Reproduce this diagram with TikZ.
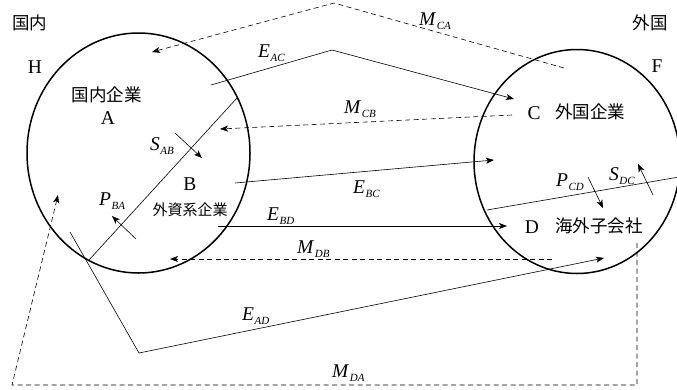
\documentclass[tikz,border=0pt]{standalone}
\usepackage{fontspec}
\setmainfont{Liberation Serif}
\newfontfamily\jp{Noto Sans CJK JP}
\usetikzlibrary{arrows.meta}
\newcommand{\sublab}[2]{\textit{#1}\kern0.5pt\raisebox{-4pt}{\fontsize{11}{11}\selectfont\textit{#2}}}
\begin{document}
\begin{tikzpicture}[x=1pt,y=-1pt,
  circ/.style={line width=1.5pt},
  flow/.style={line width=0.6pt},
  mflow/.style={line width=0.6pt, dash pattern=on 5pt off 3.5pt},
  tip/.style={-{Stealth[length=8pt,width=6pt,inset=2pt]}},
  jtxt/.style={font=\jp\fontsize{17.5}{18}\selectfont, inner sep=0pt},
  jsmall/.style={font=\jp\fontsize{15}{15}\selectfont, inner sep=0pt},
  ltxt/.style={font=\fontsize{19.5}{19.5}\selectfont, inner sep=0pt},
  mlab/.style={font=\fontsize{19.5}{19.5}\selectfont, inner sep=0pt, anchor=base west},
]
\useasboundingbox (0,0) rectangle (677,389);

% regions
\draw[circ] (138.5,153) ellipse [x radius=111.5, y radius=120];
\draw[circ] (577,161.5) ellipse [x radius=103, y radius=112];

% texts
\node[jtxt] (kokunai) at (30,23) {国内};
\node[jtxt] (gaikoku) at (650,23) {外国};
\node[ltxt] (H) at (35,67) {H};
\node[ltxt] (F) at (657,66) {F};
\node[jtxt] (kA) at (106.5,94.5) {国内企業};
\node[ltxt] (A) at (108,118) {A};
\node[ltxt] (B) at (190,184) {B};
\node[jsmall] (kB) at (190,210) {外資系企業};
\node[ltxt] (C) at (534,113) {C};
\node[jtxt] (kC) at (590,112) {外国企業};
\node[ltxt] (D) at (532,227) {D};
\node[jtxt] (kD) at (599,226) {海外子会社};

% labels
\node[mlab] (lEAC) at (258,57) {\sublab{E}{AC}};
\node[mlab] (lMCA) at (419,25) {\sublab{M}{CA}};
\node[mlab] (lMCB) at (344,113) {\sublab{M}{CB}};
\node[mlab] (lSAB) at (150,150) {\sublab{S}{AB}};
\node[mlab] (lEBC) at (353,193) {\sublab{E}{BC}};
\node[mlab] (lPBA) at (99,205) {\sublab{P}{BA}};
\node[mlab] (lEBD) at (267,220) {\sublab{E}{BD}};
\node[mlab] (lMDB) at (297,253) {\sublab{M}{DB}};
\node[mlab] (lEAD) at (242,320) {\sublab{E}{AD}};
\node[mlab] (lMDA) at (332,377) {\sublab{M}{DA}};
\node[mlab] (lPCD) at (556,186) {\sublab{P}{CD}};
\node[mlab] (lSDC) at (609,180) {\sublab{S}{DC}};

% coordinates
\coordinate (dl1) at (237,98);   \coordinate (dl2) at (89,260);
\coordinate (dr1) at (487,210);  \coordinate (dr2) at (679,177);
\coordinate (eac1) at (211,85);  \coordinate (eac2) at (332,50);  \coordinate (eac3) at (514,99);
\coordinate (mca1) at (564,68);  \coordinate (mca2) at (334,3);   \coordinate (mca3) at (152,52);
\coordinate (mcb1) at (512,115); \coordinate (mcb2) at (220,129);
\coordinate (sab1) at (175,133); \coordinate (sab2) at (202,158);
\coordinate (ebc1) at (235,183); \coordinate (ebc2) at (494,160);
\coordinate (pba1) at (136,239); \coordinate (pba2) at (112,216);
\coordinate (ebd1) at (218,226); \coordinate (ebd2) at (507,226);
\coordinate (mdb1) at (552,259); \coordinate (mdb2) at (170,259);
\coordinate (ead1) at (70,232);  \coordinate (ead2) at (139,353); \coordinate (ead3) at (604,258);
\coordinate (mda1) at (637,243); \coordinate (mda2) at (637,385); \coordinate (mda3) at (12,385); \coordinate (mda4) at (58,195);
\coordinate (pcd1) at (588,177); \coordinate (pcd2) at (603,208);
\coordinate (sdc1) at (653,195); \coordinate (sdc2) at (638,164);

% divider lines
\draw[flow] (dl1) -- (dl2);
\draw[flow] (dr1) -- (dr2);

% flows
\draw[flow,tip] (eac1) -- (eac2) -- (eac3);
\draw[mflow,tip] (mca1) -- (mca2) -- (mca3);
\draw[mflow,tip] (mcb1) -- (mcb2);
\draw[flow,tip] (sab1) -- (sab2);
\draw[flow,tip] (ebc1) -- (ebc2);
\draw[flow,tip] (pba1) -- (pba2);
\draw[flow,tip] (ebd1) -- (ebd2);
\draw[mflow,tip] (mdb1) -- (mdb2);
\draw[flow,tip] (ead1) -- (ead2) -- (ead3);
\draw[mflow,tip] (mda1) -- (mda2) -- (mda3) -- (mda4);
\draw[flow,tip] (pcd1) -- (pcd2);
\draw[flow,tip] (sdc1) -- (sdc2);
\end{tikzpicture}
\end{document}
